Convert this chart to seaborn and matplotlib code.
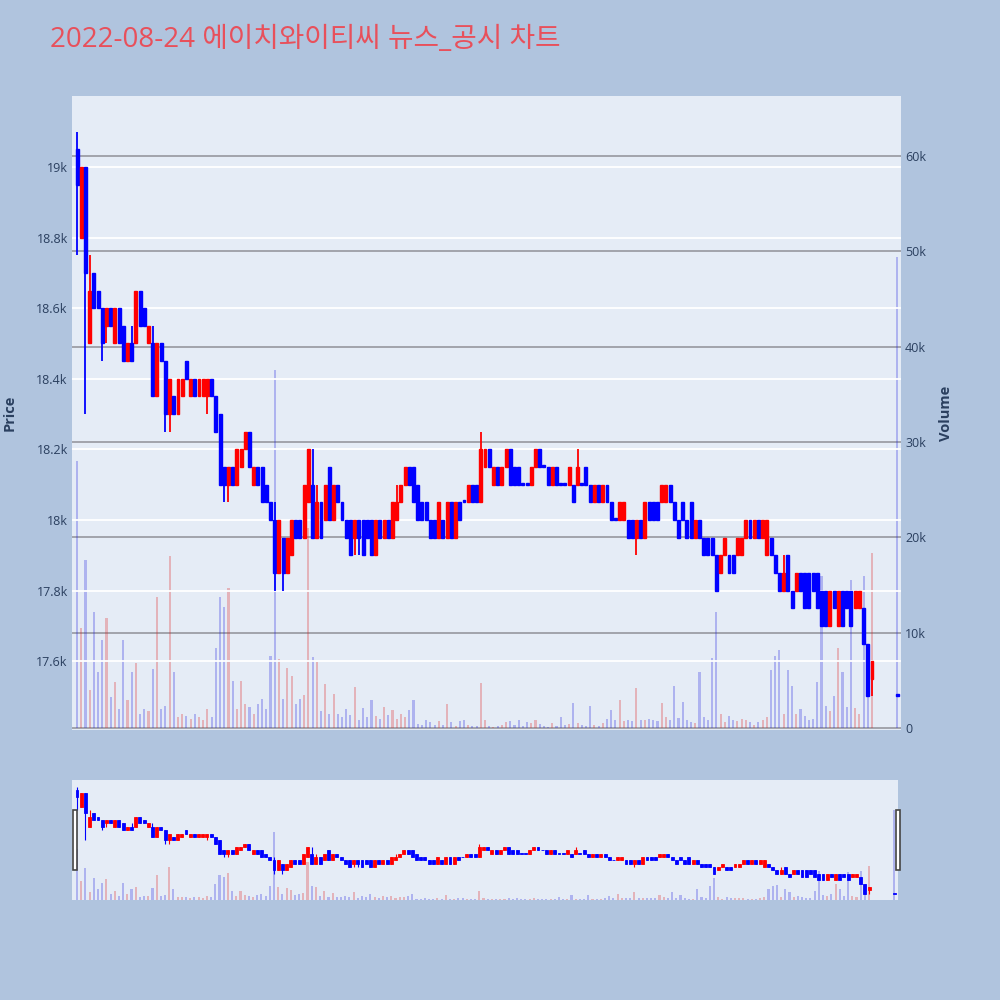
import numpy as np
import pandas as pd
import matplotlib
matplotlib.use('Agg')
import matplotlib.pyplot as plt
import matplotlib.patches as mpatches
import seaborn as sns

title = '2022-08-24 에이치와이티씨 뉴스_공시 차트'

# minutes after 09:00 (2-minute candles, last one is the 15:30 closing auction)
minutes = list(range(0, 380, 2)) + [390]

opens = [19050, 18800, 19000, 18500, 18700, 18650, 18600, 18550, 18600, 18500,
         18600, 18550, 18450, 18500, 18500, 18650, 18600, 18500, 18500, 18350,
         18500, 18450, 18300, 18350, 18300, 18350, 18450, 18350, 18400, 18350,
         18350, 18350, 18400, 18350, 18300, 18150, 18100, 18150, 18100, 18150,
         18200, 18250, 18100, 18150, 18150, 18100, 18050, 18000, 17850, 17950,
         17850, 17900, 18000, 18000, 17950, 18050, 18100, 17950, 18050, 18000,
         18150, 18000, 18100, 18050, 18000, 18000, 17950, 18000, 18000, 18000,
         18000, 17900, 18000, 17950, 18000, 17950, 18000, 18050, 18100, 18150,
         18150, 18100, 18050, 18050, 18000, 18000, 17950, 18000, 17950, 18050,
         17950, 18050, 18050, 18050, 18100, 18100, 18050, 18150, 18200, 18100,
         18150, 18100, 18150, 18200, 18150, 18150, 18100, 18100, 18100, 18150,
         18200, 18150, 18150, 18100, 18150, 18100, 18100, 18100, 18100, 18100,
         18100, 18150, 18100, 18050, 18100, 18050, 18100, 18050, 18000, 18000,
         18000, 18000, 18000, 17950, 18000, 17950, 18050, 18050, 18050, 18050,
         18050, 18100, 18050, 18000, 18050, 18000, 18050, 17950, 18000, 17950,
         17950, 17950, 17900, 17850, 17900, 17900, 17900, 17900, 17900, 17950,
         18000, 17950, 18000, 17950, 17900, 17950, 17900, 17850, 17800, 17900,
         17800, 17800, 17850, 17850, 17850, 17850, 17850, 17800, 17800, 17700,
         17800, 17700, 17800, 17800, 17800, 17750, 17750, 17750, 17650, 17550,
         17500]
closes = [18950, 19000, 18700, 18650, 18600, 18600, 18500, 18600, 18550, 18600,
          18500, 18450, 18500, 18450, 18650, 18550, 18550, 18550, 18350, 18500,
          18450, 18300, 18400, 18300, 18400, 18400, 18400, 18400, 18350, 18400,
          18400, 18400, 18350, 18250, 18100, 18100, 18150, 18100, 18200, 18200,
          18250, 18150, 18150, 18100, 18050, 18050, 18000, 17850, 18000, 17850,
          17950, 18000, 17950, 17950, 18100, 18200, 17950, 18050, 17950, 18100,
          18000, 18100, 18050, 18000, 17950, 17900, 18000, 17950, 17900, 17950,
          17900, 18000, 17950, 18000, 17950, 18050, 18050, 18100, 18150, 18100,
          18050, 18000, 18000, 18000, 17950, 17950, 18050, 17950, 18050, 17950,
          18050, 18000, 18050, 18100, 18050, 18050, 18200, 18200, 18150, 18150,
          18100, 18150, 18200, 18100, 18100, 18100, 18100, 18100, 18150, 18200,
          18150, 18150, 18100, 18150, 18100, 18100, 18100, 18150, 18050, 18150,
          18100, 18100, 18050, 18100, 18050, 18100, 18050, 18000, 18000, 18050,
          18050, 17950, 17950, 18000, 17950, 18050, 18000, 18000, 18000, 18100,
          18100, 18050, 18000, 17950, 18000, 17950, 17950, 18000, 17950, 17900,
          17900, 17900, 17800, 17900, 17950, 17850, 17850, 17950, 17950, 18000,
          17950, 18000, 17950, 18000, 18000, 17900, 17850, 17800, 17850, 17800,
          17750, 17850, 17800, 17750, 17750, 17800, 17750, 17700, 17700, 17800,
          17750, 17800, 17700, 17750, 17700, 17800, 17800, 17650, 17500, 17600,
          17500]
highs = [19100, 19000, 19000, 18750, 18700, 18650, 18600, 18600, 18600, 18600,
         18600, 18550, 18500, 18550, 18650, 18650, 18600, 18550, 18550, 18500,
         18500, 18450, 18400, 18350, 18400, 18400, 18450, 18400, 18400, 18400,
         18400, 18400, 18400, 18350, 18300, 18150, 18150, 18150, 18200, 18200,
         18250, 18250, 18150, 18150, 18150, 18100, 18050, 18050, 18000, 17950,
         17950, 18000, 18000, 18000, 18100, 18200, 18200, 18100, 18050, 18100,
         18150, 18100, 18100, 18050, 18000, 18000, 18000, 18000, 18000, 18000,
         18000, 18000, 18000, 18000, 18000, 18050, 18100, 18100, 18150, 18150,
         18150, 18100, 18050, 18050, 18000, 18000, 18050, 18000, 18050, 18050,
         18050, 18050, 18050, 18100, 18100, 18100, 18250, 18200, 18200, 18150,
         18150, 18150, 18200, 18200, 18150, 18150, 18100, 18100, 18150, 18200,
         18200, 18150, 18150, 18150, 18150, 18100, 18100, 18150, 18100, 18200,
         18100, 18150, 18100, 18100, 18100, 18100, 18100, 18050, 18000, 18050,
         18050, 18000, 18000, 18000, 18000, 18050, 18050, 18050, 18050, 18100,
         18100, 18100, 18050, 18000, 18050, 18000, 18050, 18000, 18000, 17950,
         17950, 17950, 17900, 17900, 17950, 17900, 17900, 17950, 17950, 18000,
         18000, 18000, 18000, 18000, 18000, 17950, 17900, 17850, 17900, 17900,
         17800, 17850, 17850, 17850, 17850, 17850, 17850, 17800, 17800, 17800,
         17800, 17800, 17800, 17800, 17800, 17800, 17800, 17750, 17650, 17600,
         17500]
lows = [18750, 18800, 18300, 18500, 18600, 18600, 18450, 18500, 18550, 18500,
        18500, 18450, 18450, 18450, 18500, 18550, 18550, 18500, 18350, 18350,
        18450, 18250, 18250, 18300, 18300, 18350, 18400, 18350, 18350, 18350,
        18350, 18300, 18350, 18250, 18100, 18050, 18050, 18100, 18100, 18150,
        18200, 18150, 18100, 18100, 18050, 18050, 18000, 17800, 17850, 17800,
        17850, 17900, 17950, 17950, 17950, 18050, 17950, 17950, 17950, 18000,
        18000, 18000, 18050, 18000, 17950, 17900, 17900, 17900, 17900, 17950,
        17900, 17900, 17950, 17950, 17950, 17950, 18000, 18050, 18100, 18100,
        18050, 18000, 18000, 18000, 17950, 17950, 17950, 17950, 17950, 17950,
        17950, 18000, 18050, 18050, 18050, 18050, 18050, 18150, 18150, 18100,
        18100, 18100, 18150, 18100, 18100, 18100, 18100, 18100, 18100, 18150,
        18150, 18150, 18100, 18100, 18100, 18100, 18100, 18100, 18050, 18100,
        18100, 18100, 18050, 18050, 18050, 18050, 18050, 18000, 18000, 18000,
        18000, 17950, 17950, 17900, 17950, 17950, 18000, 18000, 18000, 18050,
        18050, 18050, 18000, 17950, 18000, 17950, 17950, 17950, 17950, 17900,
        17900, 17900, 17800, 17850, 17900, 17850, 17850, 17900, 17900, 17950,
        17950, 17950, 17950, 17950, 17900, 17900, 17850, 17800, 17800, 17800,
        17750, 17800, 17800, 17750, 17750, 17800, 17750, 17700, 17700, 17700,
        17750, 17700, 17700, 17750, 17700, 17750, 17750, 17650, 17500, 17500,
        17500]
volumes = [28000, 10500, 17600, 4000, 12200, 5900, 9200, 11600, 3300, 4800,
           2000, 9200, 2900, 5900, 6800, 1500, 2000, 1800, 6200, 13800,
           2000, 2300, 18000, 5900, 1200, 1500, 1300, 1000, 1500, 1200,
           900, 2000, 1200, 8400, 13700, 12700, 14700, 4900, 2000, 4900,
           2500, 2200, 1500, 2500, 3000, 2000, 7600, 37600, 7200, 3000,
           6300, 5500, 2500, 3000, 3500, 21000, 7500, 6900, 1800, 4600,
           1500, 3600, 1500, 1200, 2000, 1400, 4300, 800, 2100, 1200,
           2900, 1300, 1000, 2200, 1400, 1900, 1000, 1500, 1200, 1900,
           2900, 400, 300, 800, 600, 300, 700, 300, 2500, 600,
           200, 700, 800, 300, 200, 200, 4700, 900, 200, 100,
           200, 300, 600, 700, 300, 800, 200, 600, 500, 800,
           400, 200, 100, 500, 200, 1200, 300, 400, 2600, 500,
           300, 200, 2300, 300, 200, 500, 1000, 1900, 800, 2900,
           700, 900, 700, 4200, 900, 800, 1000, 900, 700, 2600,
           1200, 800, 4400, 1100, 2700, 900, 600, 500, 5900, 1200,
           800, 7400, 12200, 1500, 600, 1300, 900, 700, 1000, 900,
           600, 300, 600, 900, 1200, 6100, 7600, 8200, 1500, 6100,
           4400, 1500, 2000, 1300, 800, 1000, 4800, 16000, 2300, 1800,
           3400, 8400, 5900, 2200, 15500, 2100, 1500, 16000, 6500, 18400,
           49400]

price_ticks = [17600, 17800, 18000, 18200, 18400, 18600, 18800, 19000]
price_labels = ['17.6k', '17.8k', '18k', '18.2k', '18.4k', '18.6k', '18.8k', '19k']
vol_ticks = [0, 10000, 20000, 30000, 40000, 50000, 60000]
vol_labels = ['0', '10k', '20k', '30k', '40k', '50k', '60k']
time_ticks = [0, 60, 120, 180, 240, 300, 360]
time_labels = ['09:00\nAug 24, 2022', '10:00', '11:00', '12:00', '13:00', '14:00', '15:00']

UP = '#FF0000'
DOWN = '#0000FF'
BG = '#E5ECF6'
TXT = '#2a3f5f'

df = pd.DataFrame({'t': minutes, 'open': opens, 'close': closes,
                   'high': highs, 'low': lows, 'vol': volumes})
df['dir'] = np.where(df['close'] > df['open'], 'up', 'down')
df['col'] = np.where(df['close'] > df['open'], UP, DOWN)

XLIM = (-2.4, 391.8)
PLIM = (17405, 19201)
VLIM = (-200, 66300)

sns.set_theme(style='white')
plt.rcParams['font.family'] = ['Open Sans', 'Noto Sans CJK KR', 'DejaVu Sans']


def draw_panel(ax, axv, wick_lw, body_lw, vol_w):
    ax.set_zorder(axv.get_zorder() + 1)
    ax.patch.set_visible(False)
    axv.patch.set_visible(True)
    axv.set_facecolor(BG)
    sns.barplot(data=df, x='t', y='vol', hue='dir', palette={'up': UP, 'down': DOWN},
                native_scale=True, dodge=False, width=vol_w, alpha=0.28, errorbar=None,
                linewidth=0, legend=False, ax=axv)
    ax.vlines(df['t'], df['low'], df['high'], colors=df['col'], linewidth=wick_lw)
    body = np.maximum((df['close'] - df['open']).abs(), 6)
    ax.bar(df['t'], body, bottom=np.minimum(df['open'], df['close']), width=1.4,
           color=df['col'], edgecolor=df['col'], linewidth=body_lw)
    ax.set_xlim(*XLIM)
    axv.set_xlim(*XLIM)
    ax.set_ylim(*PLIM)
    axv.set_ylim(*VLIM)
    for a in (ax, axv):
        for s in a.spines.values():
            s.set_visible(False)
        a.set_xlabel('')
        a.set_ylabel('')


fig = plt.figure(figsize=(10, 10), dpi=100)
fig.patch.set_facecolor('#B0C4DE')

# main chart
ax = fig.add_axes([0.072, 0.270, 0.829, 0.634])
axv = ax.twinx()
draw_panel(ax, axv, 1.3, 1.0, 0.5)

ax.set_yticks(price_ticks)
ax.set_yticklabels(price_labels)
axv.set_yticks(vol_ticks)
axv.set_yticklabels(vol_labels)
ax.set_xticks(time_ticks)
ax.set_xticklabels(time_labels, linespacing=1.35)
axv.set_xticks([])
ax.tick_params(axis='y', length=0, pad=3, labelsize=9, labelcolor=TXT)
ax.tick_params(axis='x', length=0, pad=4, labelsize=9, labelcolor=TXT)
axv.tick_params(axis='y', length=0, pad=3, labelsize=9, labelcolor=TXT)
ax.grid(axis='y', color='white', linewidth=1.3)
ax.grid(axis='x', visible=False)
axv.grid(axis='y', color='#9c9ea6', linewidth=1.3)
axv.grid(axis='x', visible=False)

fig.text(0.010, 0.587, 'Price', rotation=90, ha='center', va='center',
         fontsize=10.5, fontweight='bold', color=TXT)
fig.text(0.946, 0.587, 'Volume', rotation=90, ha='center', va='center',
         fontsize=10.5, fontweight='bold', color=TXT)
fig.text(0.050, 0.960, title, ha='left', va='center', fontsize=20, color='#E8505B')

# range slider
axs = fig.add_axes([0.072, 0.100, 0.826, 0.120])
axsv = axs.twinx()
draw_panel(axs, axsv, 0.8, 0.6, 0.5)
for a in (axs, axsv):
    a.set_xticks([])
    a.set_yticks([])
    a.grid(False)

for hx in (0.073, 0.896):
    fig.patches.append(mpatches.Rectangle((hx, 0.130), 0.004, 0.060, transform=fig.transFigure,
                                          facecolor='white', edgecolor='#444444', linewidth=1.2,
                                          zorder=10))

fig.savefig('out.png', dpi=100, facecolor=fig.get_facecolor())
